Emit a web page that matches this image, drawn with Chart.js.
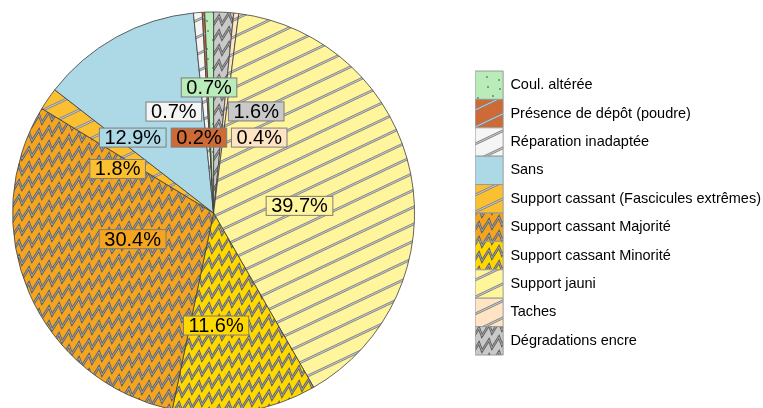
<!DOCTYPE html>
<html><head><meta charset="utf-8">
<script src="https://cdn.jsdelivr.net/npm/chart.js@4.4.1/dist/chart.umd.min.js"></script>
<style>
html,body{margin:0;padding:0;background:#fff;overflow:hidden}
#wrap{width:763px;height:408px;position:relative;overflow:hidden}
#cv{position:absolute;left:-48px;top:0;width:819px;height:408px}
</style>
</head><body><div id="wrap"><div id="cv"><canvas id="c"></canvas></div></div>
<script>
// ---- data (legend order) ----
const categories = ['Coul. altérée','Présence de dépôt (poudre)','Réparation inadaptée','Sans','Support cassant (Fascicules extrêmes)','Support cassant Majorité','Support cassant Minorité','Support jauni','Taches','Dégradations encre'];
const percentages = [0.7, 0.2, 0.7, 12.9, 1.8, 30.4, 11.6, 39.7, 0.4, 1.6];

// ---- styles ----
const baseColors = ['#b9ecb9','#cd6a36','#f5f5f5','#add8e6','#fbbf32','#f3a421','#ffd800','#fff59c','#ffe4c4','#c9c9c9'];
const fillKinds = ['dots','lines','lines','solid','lines','zigzag','zigzag','lines','lines','zigzag'];
// label placement relative to each slice: angular shift (deg, clockwise) and radius fraction
const labelShift = [-0.8, -8.1, -16.9, -18, -9.9, 5.5, 7.7, 6.6, 24.7, 19.9];
const labelRadius = [0.625, 0.382, 0.542, 0.55, 0.525, 0.423, 0.56, 0.429, 0.4385, 0.548];

function makePattern(kind, color) {
  if (kind === 'solid') return color;
  const c = document.createElement('canvas');
  const g = c.getContext('2d');
  if (kind === 'lines') {
    c.width = 36; c.height = 17;
    g.fillStyle = color; g.fillRect(0, 0, 36, 17);
    const draw = (lw, col) => {
      g.strokeStyle = col; g.lineWidth = lw;
      for (const oy of [-17, 0, 17]) {
        g.beginPath(); g.moveTo(-36, 34 + oy); g.lineTo(72, -17 + oy); g.stroke();
      }
    };
    draw(2.6, '#858585'); draw(0.9, '#d2d2d2');
  } else if (kind === 'zigzag') {
    const P = 10, D = 3, H = 15, K = 5, UP = 7, AMP = 11;
    c.width = P * K; c.height = H;
    g.fillStyle = color; g.fillRect(0, 0, c.width, H);
    const draw = (lw, col) => {
      g.strokeStyle = col; g.lineWidth = lw; g.lineJoin = 'miter';
      for (let y0 = -H; y0 <= 4 * H; y0 += H) {
        g.beginPath();
        g.moveTo(-P, y0 + D);
        for (let k = -1; k <= K; k++) {
          g.lineTo(P * k + UP, y0 - D * k - AMP);
          g.lineTo(P * k + P, y0 - D * (k + 1));
        }
        g.stroke();
      }
    };
    draw(2.6, '#626262'); draw(0.9, '#a8a8a8');
  } else if (kind === 'dots') {
    c.width = 28; c.height = 28;
    g.fillStyle = color; g.fillRect(0, 0, 28, 28);
    g.fillStyle = '#3c3c3c';
    for (const [x, y] of [[4, 3], [16, 5], [9, 12], [22, 14], [3, 21], [15, 24]]) {
      g.beginPath(); g.arc(x, y, 0.8, 0, Math.PI * 2); g.fill();
    }
  }
  return g.createPattern(c, 'repeat');
}

const fills = fillKinds.map((k, i) => makePattern(k, baseColors[i]));
const n = categories.length;
// pie drawn counter-clockwise in legend order -> feed reversed to Chart.js (clockwise)
const rev = a => a.slice().reverse();

const labelPlugin = {
  id: 'sliceLabels',
  afterDatasetsDraw(chart) {
    const meta = chart.getDatasetMeta(0);
    const ctx = chart.ctx;
    ctx.save();
    ctx.font = '20px "Liberation Sans", Arial, sans-serif';
    ctx.textAlign = 'center';
    ctx.textBaseline = 'middle';
    meta.data.forEach((arc, j) => {
      const i = n - 1 - j;
      const p = arc.getProps(['x', 'y', 'startAngle', 'endAngle', 'outerRadius'], true);
      const a = (p.startAngle + p.endAngle) / 2 + labelShift[i] * Math.PI / 180;
      const r = p.outerRadius * labelRadius[i];
      const cx = p.x + Math.cos(a) * r, cy = p.y + Math.sin(a) * r;
      const txt = percentages[i].toFixed(1) + '%';
      const w = ctx.measureText(txt).width + 10;
      const h = 19;
      ctx.fillStyle = baseColors[i];
      ctx.fillRect(cx - w / 2, cy - h / 2, w, h);
      ctx.strokeStyle = '#7d7d7d'; ctx.lineWidth = 1;
      ctx.strokeRect(cx - w / 2, cy - h / 2, w, h);
      ctx.fillStyle = '#000';
      ctx.fillText(txt, cx, cy + 1);
    });
    ctx.restore();
  }
};

new Chart(document.getElementById('c'), {
  type: 'pie',
  data: {
    labels: rev(categories),
    datasets: [{
      data: rev(percentages),
      backgroundColor: rev(fills),
      borderColor: '#3d3d3d',
      borderWidth: 0.8,
      radius: 201,
      clip: false,
      hoverOffset: 0
    }]
  },
  options: {
    responsive: true,
    maintainAspectRatio: false,
    animation: false,
    events: [],
    layout: { padding: { left: 0, right: 0, top: 18, bottom: 0 } },
    plugins: {
      tooltip: { enabled: false },
      legend: {
        position: 'right',
        align: 'center',
        reverse: true,
        labels: {
          boxWidth: 28,
          boxHeight: 28.4,
          padding: 0,
          color: '#000',
          font: { size: 14.5, family: '"Liberation Sans", Arial, sans-serif' },
          generateLabels(chart) {
            const items = Chart.overrides.pie.plugins.legend.labels.generateLabels(chart);
            items.forEach(it => { it.strokeStyle = '#9a9a9a'; it.lineWidth = 1; });
            return items;
          }
        }
      }
    }
  },
  plugins: [labelPlugin]
});
</script>
</body></html>
